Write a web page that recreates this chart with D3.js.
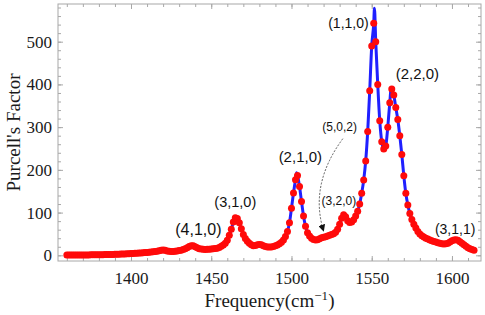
<!DOCTYPE html>
<html>
<head>
<meta charset="utf-8">
<script src="https://cdn.jsdelivr.net/npm/d3@7"></script>
<style>
  body { margin: 0; background: #fff; }
  svg { display: block; }
</style>
</head>
<body>
<svg id="chart" width="485" height="315"></svg>
<script>
// sampled spectrum (red dots)
const freq = [
  1360, 1361.25, 1362.5, 1363.75, 1365, 1366.25, 1367.5, 1368.75,
  1370, 1371.25, 1372.5, 1373.75, 1375, 1376.25, 1377.5, 1378.75,
  1380, 1381.25, 1382.5, 1383.75, 1385, 1386.25, 1387.5, 1388.75,
  1390, 1391.25, 1392.5, 1393.75, 1395, 1396.25, 1397.5, 1398.75,
  1400, 1401.25, 1402.5, 1403.75, 1405, 1406.25, 1407.5, 1408.75,
  1410, 1411.25, 1412.5, 1413.75, 1415, 1416.25, 1417.5, 1418.75,
  1420, 1421.25, 1422.5, 1423.75, 1425, 1426.25, 1427.5, 1428.75,
  1430, 1431.25, 1432.5, 1433.75, 1435, 1436.25, 1437.5, 1438.75,
  1440, 1441.25, 1442.5, 1443.75, 1445, 1446.25, 1447.5, 1448.75,
  1450, 1451.25, 1452.5, 1453.75, 1455, 1456.25, 1457.5, 1458.75,
  1460, 1461.25, 1462.5, 1463.75, 1465, 1466.25, 1467.5, 1468.75,
  1470, 1471.25, 1472.5, 1473.75, 1475, 1476.25, 1477.5, 1478.75,
  1480, 1481.25, 1482.5, 1483.75, 1485, 1486.25, 1487.5, 1488.75,
  1490, 1491.25, 1492.5, 1493.75, 1495, 1496.25, 1497.5, 1498.75,
  1500, 1501.25, 1502.5, 1503.75, 1505, 1506.25, 1507.5, 1508.75,
  1510, 1511.25, 1512.5, 1513.75, 1515, 1516.25, 1517.5, 1518.75,
  1520, 1521.25, 1522.5, 1523.75, 1525, 1526.25, 1527.5, 1528.75,
  1530, 1531.25, 1532.5, 1533.75, 1535, 1536.25, 1537.5, 1538.75,
  1540, 1541.25, 1542.5, 1543.75, 1545, 1546.25, 1547.5, 1548.75,
  1550, 1551.25, 1552.5, 1553.75, 1555, 1556.25, 1557.5, 1558.75,
  1560, 1561.25, 1562.5, 1563.75, 1565, 1566.25, 1567.5, 1568.75,
  1570, 1571.25, 1572.5, 1573.75, 1575, 1576.25, 1577.5, 1578.75,
  1580, 1581.25, 1582.5, 1583.75, 1585, 1586.25, 1587.5, 1588.75,
  1590, 1591.25, 1592.5, 1593.75, 1595, 1596.25, 1597.5, 1598.75,
  1600, 1601.25, 1602.5, 1603.75, 1605, 1606.25, 1607.5, 1608.75,
  1610, 1611.25, 1612.5, 1613.75
];
const purcell = [
  0.5, 0.5, 0.6, 0.6, 0.7, 0.7, 0.8, 0.8,
  0.9, 0.9, 1.0, 1.0, 1.1, 1.2, 1.2, 1.3,
  1.4, 1.5, 1.6, 1.7, 1.8, 1.9, 2.0, 2.2,
  2.3, 2.5, 2.7, 2.9, 3.1, 3.3, 3.6, 3.9,
  4.2, 4.5, 4.8, 5.1, 5.4, 5.7, 6.0, 6.4,
  6.8, 7.2, 7.6, 8.1, 8.7, 9.5, 10.6, 11.8,
  12.4, 11.7, 10.3, 9.3, 8.9, 9.0, 9.4, 10.1,
  11.0, 12.1, 13.6, 15.5, 18.0, 20.5, 22.4, 22.3,
  20.0, 17.5, 15.6, 14.6, 14.0, 13.8, 14.0, 14.4,
  14.9, 15.4, 16.0, 16.8, 18.5, 21.0, 24.0, 28.5,
  35.5, 47, 61, 78, 88, 86, 76, 62,
  49, 39.5, 33, 28, 24.5, 22.5, 23, 24.8,
  25.6, 24.6, 22.4, 20.6, 19.5, 19.2, 19.5, 20.5,
  22.2, 24.3, 27, 30.5, 36, 44, 56, 76,
  110, 146, 177, 187, 161, 126, 92, 68,
  53, 45, 40, 37, 36, 36.5, 38.5, 41,
  42.5, 43.5, 45, 47, 49, 50.5, 54, 61,
  73, 87, 95, 90, 81, 77, 78, 83,
  92, 103, 120, 145, 176, 221, 290, 385,
  490, 543, 500, 400, 315, 266, 249, 256,
  300, 357, 389, 375, 346, 318, 280, 236,
  186, 145, 118, 98, 84, 73, 64, 56,
  50, 46, 43, 40, 38, 36, 34, 32.5,
  31, 29.5, 28, 27, 26.5, 27, 28.5, 31,
  34, 36, 36.5, 35, 32, 28, 24.5, 21,
  18, 15.5, 13.5, 12
];
// finer curve points where the blue line rises above the dots
const peakFreq = [1465.6, 1503.2, 1551.7, 1562.2];
const peakVal  = [91, 193, 578, 393];

// mode labels
const modeNames = ['(4,1,0)', '(3,1,0)', '(2,1,0)', '(1,1,0)', '(2,2,0)', '(3,2,0)', '(5,0,2)', '(3,1,1)'];
const modeFreq  = [1442, 1465, 1505.5, 1535.5, 1578.5, 1529.5, 1530, 1602];
const modeVal   = [47, 113, 218, 533, 412, 118, 292, 50];
const modeSize  = [16, 14.5, 15, 14, 15, 12, 12, 14];

const xTicks = [1400, 1450, 1500, 1550, 1600];
const yTicks = [0, 100, 200, 300, 400, 500];

const svg = d3.select('#chart');
const mLeft = 58, mRight = 481, mTop = 4, mBottom = 261;

const x = d3.scaleLinear().domain([1354.5, 1618.1]).range([mLeft, mRight]);
const y = d3.scaleLinear().domain([-13.3, 588.2]).range([mBottom, mTop]);

const points = freq.map((f, i) => ({ f: f, v: purcell[i] }));
const linePts = points.concat(peakFreq.map((f, i) => ({ f: f, v: peakVal[i] })))
    .sort((a, b) => a.f - b.f);

// frame with inward ticks on all sides
const frameColor = '#a8a8a8';
const axisGroup = svg.append('g');

function addAxis(axis, transform, labels) {
    const g = axisGroup.append('g').attr('transform', transform).call(axis);
    g.select('.domain').remove();
    g.selectAll('line').attr('stroke', frameColor).attr('stroke-width', 1);
    if (!labels) g.selectAll('text').remove();
    return g;
}

const xMinor = d3.range(1360, 1620, 10);
const yMinor = d3.range(0, 590, 20);

addAxis(d3.axisBottom(x).tickValues(xMinor).tickSize(-3).tickFormat(''), `translate(0,${mBottom})`, false);
addAxis(d3.axisTop(x).tickValues(xMinor).tickSize(-3).tickFormat(''), `translate(0,${mTop})`, false);
addAxis(d3.axisLeft(y).tickValues(yMinor).tickSize(-3).tickFormat(''), `translate(${mLeft},0)`, false);
addAxis(d3.axisRight(y).tickValues(yMinor).tickSize(-3).tickFormat(''), `translate(${mRight},0)`, false);

const xg = addAxis(d3.axisBottom(x).tickValues(xTicks).tickSize(-5).tickPadding(11).tickFormat(d3.format('d')),
    `translate(0,${mBottom})`, true);
addAxis(d3.axisTop(x).tickValues(xTicks).tickSize(-5).tickFormat(''), `translate(0,${mTop})`, false);
const yg = addAxis(d3.axisLeft(y).tickValues(yTicks).tickSize(-5).tickPadding(6).tickFormat(d3.format('d')),
    `translate(${mLeft},0)`, true);
addAxis(d3.axisRight(y).tickValues(yTicks).tickSize(-5).tickFormat(''), `translate(${mRight},0)`, false);

[xg, yg].forEach(g => g.selectAll('text')
    .attr('fill', '#1a1a1a')
    .style('font-family', '"Liberation Serif", "Times New Roman", serif')
    .style('font-size', '17px'));

svg.append('rect')
    .attr('x', mLeft).attr('y', mTop)
    .attr('width', mRight - mLeft).attr('height', mBottom - mTop)
    .attr('fill', 'none').attr('stroke', frameColor).attr('stroke-width', 1);

// axis titles
const serif = '"Liberation Serif", "Times New Roman", serif';
const xt = svg.append('text')
    .attr('x', (mLeft + mRight) / 2).attr('y', 307)
    .attr('text-anchor', 'middle')
    .style('font-family', serif).style('font-size', '19px').attr('fill', '#1a1a1a');
xt.append('tspan').text('Frequency(cm');
xt.append('tspan').text('\u22121').attr('dy', -7).style('font-size', '13px');
xt.append('tspan').text(')').attr('dy', 7);

svg.append('text')
    .attr('transform', `translate(20,${(mTop + mBottom) / 2}) rotate(-90)`)
    .attr('text-anchor', 'middle')
    .style('font-family', serif).style('font-size', '19px').attr('fill', '#1a1a1a')
    .text("Purcell's Factor");

// spectrum
svg.append('path')
    .datum(linePts)
    .attr('fill', 'none')
    .attr('stroke', '#2020ff')
    .attr('stroke-width', 3)
    .attr('d', d3.line().x(d => x(d.f)).y(d => y(d.v)).curve(d3.curveMonotoneX));

svg.append('g').selectAll('circle')
    .data(points)
    .join('circle')
    .attr('cx', d => x(d.f))
    .attr('cy', d => y(d.v))
    .attr('r', 3.5)
    .attr('fill', '#ff0a0a');

// mode labels
svg.append('g').selectAll('text')
    .data(modeNames)
    .join('text')
    .attr('x', (d, i) => x(modeFreq[i]))
    .attr('y', (d, i) => y(modeVal[i]))
    .attr('text-anchor', 'middle')
    .style('font-family', '"Liberation Sans", Arial, sans-serif')
    .style('font-size', (d, i) => modeSize[i] + 'px')
    .attr('fill', '#111')
    .text(d => d);

// dotted arrow from (5,0,2) down to its mode
svg.append('defs').append('marker')
    .attr('id', 'head')
    .attr('viewBox', '0 0 10 10')
    .attr('refX', 9).attr('refY', 5)
    .attr('markerWidth', 7).attr('markerHeight', 7)
    .attr('markerUnits', 'userSpaceOnUse')
    .attr('orient', 'auto')
    .append('path').attr('d', 'M0,0 L10,5 L0,10 Z').attr('fill', '#111');

const tail = [x(1532), y(273)];
const bend = [x(1511), y(166)];
const tip = [x(1520), y(57)];
svg.append('path')
    .attr('d', `M${tail} Q${bend} ${tip}`)
    .attr('fill', 'none')
    .attr('stroke', '#333')
    .attr('stroke-width', 0.8)
    .attr('stroke-dasharray', '2,1.5')
    .attr('marker-end', 'url(#head)');
</script>
</body>
</html>
